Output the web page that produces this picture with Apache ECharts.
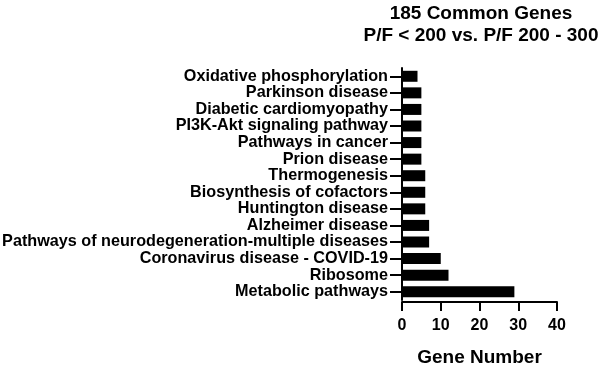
<!DOCTYPE html>
<html>
<head>
<meta charset="utf-8">
<title>185 Common Genes</title>
<script src="https://cdn.jsdelivr.net/npm/echarts@6/dist/echarts.min.js"></script>
<style>
  html, body { margin: 0; padding: 0; background: #fff; }
  #chart { width: 600px; height: 366px; }
</style>
</head>
<body>
<div id="chart"></div>
<script>
// KEGG pathways, listed bottom to top as the category axis draws them
const pathways = [
  'Metabolic pathways',
  'Ribosome',
  'Coronavirus disease - COVID-19',
  'Pathways of neurodegeneration-multiple diseases',
  'Alzheimer disease',
  'Huntington disease',
  'Biosynthesis of cofactors',
  'Thermogenesis',
  'Prion disease',
  'Pathways in cancer',
  'PI3K-Akt signaling pathway',
  'Diabetic cardiomyopathy',
  'Parkinson disease',
  'Oxidative phosphorylation'
];
const geneCounts = [29, 12, 10, 7, 7, 6, 6, 6, 5, 5, 5, 5, 5, 4];
const xTicks = [0, 10, 20, 30, 40];
const titleLines = ['185 Common Genes', 'P/F < 200 vs. P/F 200 - 300'];

const font = "'Liberation Sans', Arial, sans-serif";
const chart = echarts.init(document.getElementById('chart'));

chart.setOption({
  animation: false,
  title: {
    text: titleLines.join('\n'),
    left: 476,
    top: -2,
    textAlign: 'center',
    textStyle: {
      fontFamily: font,
      fontWeight: 'bold',
      fontSize: 19,
      lineHeight: 22,
      color: '#000'
    }
  },
  // keep the plot box fixed; the axis name sits close to the bottom edge
  grid: { left: 402, right: 43, top: 68, bottom: 66, outerBoundsMode: 'none' },
  xAxis: {
    type: 'value',
    min: xTicks[0],
    max: xTicks[xTicks.length - 1],
    interval: 10,
    offset: 2,
    name: 'Gene Number',
    nameLocation: 'middle',
    nameGap: 46,
    nameTextStyle: { fontFamily: font, fontWeight: 'bold', fontSize: 19, color: '#000' },
    axisLine: { show: true, lineStyle: { color: '#000', width: 2 } },
    axisTick: { show: true, length: 9, lineStyle: { color: '#000', width: 2 } },
    axisLabel: { fontFamily: font, fontWeight: 'bold', fontSize: 16, color: '#000', margin: 16 },
    splitLine: { show: false }
  },
  yAxis: {
    type: 'category',
    data: pathways,
    axisLine: { show: true, lineStyle: { color: '#000', width: 2 } },
    axisTick: { show: true, alignWithLabel: true, interval: 0, length: 12, lineStyle: { color: '#000', width: 2 } },
    axisLabel: { interval: 0, fontFamily: font, fontWeight: 'bold', fontSize: 16.2, color: '#000', margin: 14 },
    splitLine: { show: false }
  },
  series: [{
    type: 'bar',
    data: geneCounts,
    barWidth: 11,
    itemStyle: { color: '#000' }
  }]
});
</script>
</body>
</html>
